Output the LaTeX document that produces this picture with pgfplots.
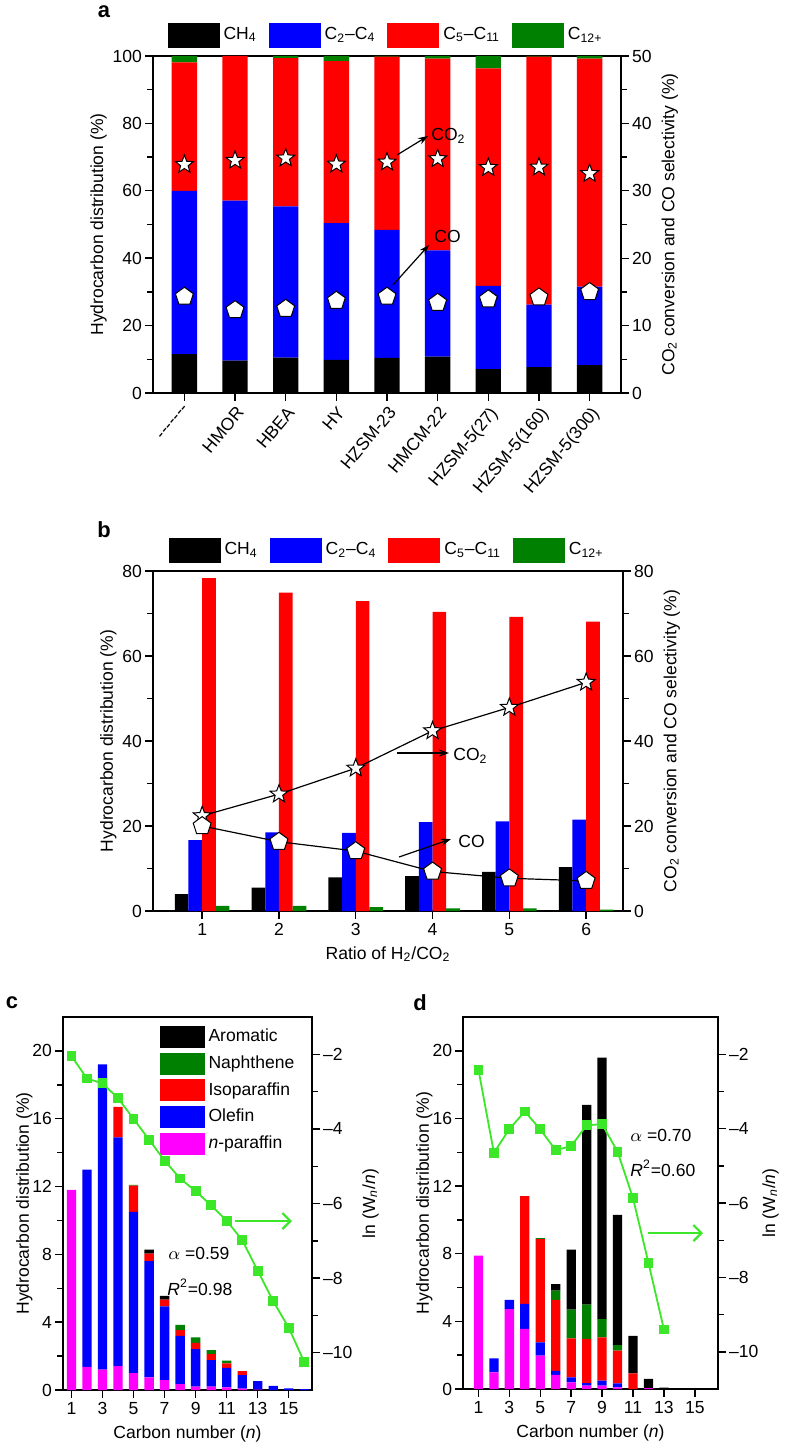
\documentclass[border=0pt]{standalone}
\usepackage{fontspec}
\setmainfont{Liberation Sans}
\usepackage{pgfplots}
\pgfplotsset{compat=1.18}
\usetikzlibrary{arrows.meta,plotmarks}
\definecolor{cgreen}{RGB}{0,128,0}
\definecolor{lgreen}{RGB}{60,230,40}
\definecolor{cmag}{RGB}{255,0,255}
\definecolor{cblue}{RGB}{0,0,255}
\definecolor{cred}{RGB}{255,0,0}
\newcommand{\fs}{\fontsize{8.8}{10.5}\selectfont}
\pgfdeclareplotmark{fstar}{%
  \pgfpathmoveto{\pgfpointpolar{90}{\pgfplotmarksize}}%
  \pgfpathlineto{\pgfpointpolar{126}{0.42\pgfplotmarksize}}%
  \pgfpathlineto{\pgfpointpolar{162}{\pgfplotmarksize}}%
  \pgfpathlineto{\pgfpointpolar{198}{0.42\pgfplotmarksize}}%
  \pgfpathlineto{\pgfpointpolar{234}{\pgfplotmarksize}}%
  \pgfpathlineto{\pgfpointpolar{270}{0.42\pgfplotmarksize}}%
  \pgfpathlineto{\pgfpointpolar{306}{\pgfplotmarksize}}%
  \pgfpathlineto{\pgfpointpolar{342}{0.42\pgfplotmarksize}}%
  \pgfpathlineto{\pgfpointpolar{18}{\pgfplotmarksize}}%
  \pgfpathlineto{\pgfpointpolar{54}{0.42\pgfplotmarksize}}%
  \pgfpathclose\pgfusepathqfillstroke}
\pgfplotsset{
  base/.style={scale only axis, /pgf/number format/assume math mode=true,
    font=\fs, tick label style={font=\fs}, label style={font=\fs},
    yticklabel style={inner sep=1.5bp}, xticklabel style={inner sep=2bp},
    axis line style={line width=0.7bp}, tick style={black, line width=0.7bp},
    tick align=outside, major tick length=3.8bp, minor tick length=2.8bp},
  leg/.style={legend image code/.code={\fill[##1] (0bp,-6.25bp) rectangle (26bp,6.25bp);}},
  legc/.style={legend image code/.code={\fill[##1] (0bp,-5.5bp) rectangle (22.5bp,5.5bp);}},
  starm/.style={only marks, mark=fstar, mark size=4.7bp, mark options={fill=white, draw=black, line width=0.5bp}},
  pentm/.style={only marks, mark=pentagon*, mark size=4.7bp, mark options={fill=white, draw=black, line width=0.5bp}},
}
\begin{document}
\begin{tikzpicture}[x=0.5bp,y=-0.5bp,font=\fs]
\useasboundingbox (0,0) rectangle (788,1449);
% ---------------- panel a
\begin{axis}[base, at={({0.5bp*153},{-0.5bp*393})}, anchor=south west, width=234bp, height=168.5bp,
  ybar stacked, bar width=0.5, xmin=-0.62, xmax=8.62, ymin=0, ymax=100,
  xtick={0,...,8}, xticklabels={{-{}-{}-{}-{}-{}-{}-},HMOR,HBEA,HY,HZSM-23,HMCM-22,HZSM-5(27),HZSM-5(160),HZSM-5(300)},
  xtick pos=left, ytick pos=left, ytick={0,20,...,100}, minor y tick num=1,
  xticklabel style={rotate=50, anchor=north east, inner sep=1.5bp},
  ylabel={Hydrocarbon distribution (\%)}, ylabel shift=-2bp,
  legend style={at={(0.5,1)}, anchor=south, yshift=4bp, draw=none, fill=none, inner sep=0pt,
    legend columns=4, /tikz/every even column/.append style={column sep=4bp}},
  leg]
\addplot[fill=black, draw=none] coordinates {(0,11.5) (1,9.6) (2,10.5) (3,9.8) (4,10.4) (5,10.8) (6,7.1) (7,7.7) (8,8.3)};
\addlegendentry{CH\textsubscript{4}}
\addplot[fill=cblue, draw=none] coordinates {(0,48.5) (1,47.5) (2,44.9) (3,40.6) (4,38.0) (5,31.5) (6,24.7) (7,18.5) (8,23.3)};
\addlegendentry{C\textsubscript{2}--C\textsubscript{4}}
\addplot[fill=cred, draw=none] coordinates {(0,38.1) (1,42.9) (2,44.0) (3,48.1) (4,51.4) (5,56.9) (6,64.5) (7,73.6) (8,67.6)};
\addlegendentry{C\textsubscript{5}--C\textsubscript{11}}
\addplot[fill=cgreen, draw=none] coordinates {(0,1.9) (1,0.0) (2,0.6) (3,1.5) (4,0.2) (5,0.8) (6,3.7) (7,0.2) (8,0.8)};
\addlegendentry{C\textsubscript{12+}}
\end{axis}
\begin{axis}[base, at={({0.5bp*153},{-0.5bp*393})}, anchor=south west, width=234bp, height=168.5bp,
  xmin=-0.62, xmax=8.62, ymin=0, ymax=50, axis y line*=right, axis x line=none,
  ytick={0,10,...,50}, minor y tick num=1,
  ylabel={CO\textsubscript{2} conversion and CO selectivity (\%)}]
\addplot[starm] coordinates {(0,33.9) (1,34.5) (2,34.85) (3,33.95) (4,34.25) (5,34.75) (6,33.45) (7,33.5) (8,32.55)};
\addplot[pentm] coordinates {(0,14.3) (1,12.3) (2,12.5) (3,13.7) (4,14.3) (5,13.4) (6,13.9) (7,14.2) (8,15.0)};
\end{axis}
\draw[-{Stealth[length=5bp,width=3.5bp]}, line width=0.6bp] (397,155) -- (428,136);
\node[anchor=west, inner sep=0pt] at (431,136) {CO\textsubscript{2}};
\draw[-{Stealth[length=5bp,width=3.5bp]}, line width=0.6bp] (393,285) -- (429,245);
\node[anchor=west, inner sep=0pt] at (434,236) {CO};
\node[font=\fontsize{11}{12}\bfseries\selectfont] at (104,12) {a};
% ---------------- panel b
\begin{axis}[base, at={({0.5bp*153},{-0.5bp*911})}, anchor=south west, width=235bp, height=170bp,
  ybar, bar width=0.178, xmin=0.36, xmax=6.48, ymin=0, ymax=80,
  xtick={1,...,6}, xtick pos=left, ytick pos=left, ytick={0,20,...,80}, minor y tick num=1,
  xlabel={Ratio of H\textsubscript{2}/CO\textsubscript{2}},
  ylabel={Hydrocarbon distribution (\%)}, ylabel shift=-2bp,
  legend style={at={(0.5,1)}, anchor=south, yshift=4bp, draw=none, fill=none, inner sep=0pt,
    legend columns=4, /tikz/every even column/.append style={column sep=4bp}},
  leg]
\addplot[fill=black, draw=none, bar shift=-0.267] coordinates {(1,4.0) (2,5.5) (3,7.9) (4,8.2) (5,9.2) (6,10.3)};
\addlegendentry{CH\textsubscript{4}}
\addplot[fill=cblue, draw=none, bar shift=-0.089] coordinates {(1,16.7) (2,18.5) (3,18.4) (4,20.9) (5,21.1) (6,21.5)};
\addlegendentry{C\textsubscript{2}--C\textsubscript{4}}
\addplot[fill=cred, draw=none, bar shift=0.089] coordinates {(1,78.3) (2,74.9) (3,72.9) (4,70.4) (5,69.2) (6,68.1)};
\addlegendentry{C\textsubscript{5}--C\textsubscript{11}}
\addplot[fill=cgreen, draw=none, bar shift=0.267] coordinates {(1,1.2) (2,1.2) (3,0.9) (4,0.6) (5,0.6) (6,0.3)};
\addlegendentry{C\textsubscript{12+}}
\end{axis}
\begin{axis}[base, at={({0.5bp*153},{-0.5bp*911})}, anchor=south west, width=235bp, height=170bp,
  xmin=0.36, xmax=6.48, ymin=0, ymax=80, axis y line*=right, axis x line=none,
  ytick={0,20,...,80}, minor y tick num=1,
  ylabel={CO\textsubscript{2} conversion and CO selectivity (\%)}]
\addplot[black, line width=0.6bp, no marks] coordinates {(1,22.4) (2,27.5) (3,33.6) (4,42.4) (5,47.9) (6,53.8)};
\addplot[black, line width=0.6bp, no marks] coordinates {(1,20.0) (2,16.3) (3,14.1) (4,9.3) (5,7.7) (6,7.1)};
\addplot[starm] coordinates {(1,22.4) (2,27.5) (3,33.6) (4,42.4) (5,47.9) (6,53.8)};
\addplot[pentm] coordinates {(1,20.0) (2,16.3) (3,14.1) (4,9.3) (5,7.7) (6,7.1)};
\end{axis}
\draw[-{Stealth[length=5bp,width=3.5bp]}, line width=0.6bp] (397,753) -- (449,753);
\node[anchor=west, inner sep=0pt] at (453,756) {CO\textsubscript{2}};
\draw[-{Stealth[length=5bp,width=3.5bp]}, line width=0.6bp] (399,857) -- (451,839);
\node[anchor=west, inner sep=0pt] at (458,841) {CO};
\node[font=\fontsize{11}{12}\bfseries\selectfont] at (104,530) {b};
% ---------------- panel c
\begin{axis}[base, at={({0.5bp*63},{-0.5bp*1390})}, anchor=south west, width=124.5bp, height=186.5bp,
  ybar stacked, bar width=0.6, xmin=0.45, xmax=16.5, ymin=0, ymax=22,
  xtick={1,3,...,15}, xtick pos=left, ytick pos=left, ytick={0,4,...,20}, minor y tick num=1,
  xlabel={Carbon number (\textit{n})}, ylabel={Hydrocarbon distribution (\%)}, ylabel shift=-5bp,
  legend style={at={(0.386,0.979)}, anchor=north west, draw=none, fill=none, inner sep=0pt, row sep=1.5bp},
  legend cell align=left, reverse legend, legc]
\addplot[fill=cmag, draw=none] coordinates {(1,11.8) (2,1.37) (3,1.2) (4,1.41) (5,1.0) (6,0.75) (7,0.59) (8,0.35) (9,0.2) (10,0.2) (11,0.16) (12,0.08) (13,0.03) (14,0) (15,0) (16,0)};
\addlegendentry{\textit{n}-paraffin}
\addplot[fill=cblue, draw=none] coordinates {(1,0) (2,11.63) (3,18.0) (4,13.49) (5,9.5) (6,6.85) (7,4.35) (8,2.85) (9,2.21) (10,1.56) (11,1.15) (12,0.8) (13,0.5) (14,0.24) (15,0.1) (16,0.05)};
\addlegendentry{Olefin}
\addplot[fill=cred, draw=none] coordinates {(1,0) (2,0) (3,0) (4,1.8) (5,1.56) (6,0.44) (7,0.39) (8,0.33) (9,0.37) (10,0.36) (11,0.26) (12,0.24) (13,0) (14,0) (15,0) (16,0)};
\addlegendentry{Isoparaffin}
\addplot[fill=cgreen, draw=none] coordinates {(1,0) (2,0) (3,0) (4,0) (5,0.04) (6,0) (7,0) (8,0.31) (9,0.32) (10,0.23) (11,0.16) (12,0) (13,0) (14,0) (15,0) (16,0)};
\addlegendentry{Naphthene}
\addplot[fill=black, draw=none] coordinates {(1,0) (2,0) (3,0) (4,0) (5,0) (6,0.24) (7,0.22) (8,0) (9,0) (10,0) (11,0) (12,0) (13,0) (14,0) (15,0) (16,0)};
\addlegendentry{Aromatic}
\end{axis}
\begin{axis}[base, at={({0.5bp*63},{-0.5bp*1390})}, anchor=south west, width=124.5bp, height=186.5bp,
  xmin=0.45, xmax=16.5, ymin=-11, ymax=-1, axis y line*=right, axis x line=none,
  ytick={-10,-8,-6,-4,-2}, yticklabels={–10,–8,–6,–4,–2}, minor y tick num=1,
  ylabel={ln (W\textsubscript{\textit{n}}/\textit{n})}]
\addplot[lgreen, line width=0.9bp, mark=square*, mark size=2bp, mark options={fill=lgreen, draw=lgreen}] coordinates {(1,-2.05) (2,-2.65) (3,-2.78) (4,-3.18) (5,-3.73) (6,-4.29) (7,-4.85) (8,-5.33) (9,-5.67) (10,-6.05) (11,-6.46) (12,-6.98) (13,-7.8) (14,-8.62) (15,-9.33) (16,-10.25)};
\end{axis}
\draw[lgreen, line width=1.1bp, -{Straight Barb[length=4bp,width=8bp]}] (235,1221) -- (292,1221);
\node[anchor=west, inner sep=0pt] at (168,1253) {$\alpha$ =0.59};
\node[anchor=west, inner sep=0pt] at (167,1287) {\textit{R}\textsuperscript{2}=0.98};
\node[font=\fontsize{11}{12}\bfseries\selectfont] at (12,1003) {c};
% ---------------- panel d
\begin{axis}[base, at={({0.5bp*463},{-0.5bp*1389})}, anchor=south west, width=127.5bp, height=186bp,
  ybar stacked, bar width=0.6, xmin=0, xmax=16.5, ymin=0, ymax=22,
  xtick={1,3,...,15}, xtick pos=left, ytick pos=left, ytick={0,4,...,20}, minor y tick num=1,
  xlabel={Carbon number (\textit{n})}, ylabel={Hydrocarbon distribution (\%)}, ylabel shift=-5bp]
\addplot[fill=cmag, draw=none] coordinates {(1,7.89) (2,0.98) (3,4.73) (4,3.55) (5,1.97) (6,0.83) (7,0.39) (8,0.2) (9,0.2) (10,0.1) (11,0) (12,0.05) (13,0)};
\addplot[fill=cblue, draw=none] coordinates {(1,0) (2,0.83) (3,0.54) (4,1.48) (5,0.79) (6,0.25) (7,0.30) (8,0.15) (9,0.29) (10,0.23) (11,0) (12,0) (13,0)};
\addplot[fill=cred, draw=none] coordinates {(1,0) (2,0) (3,0) (4,6.37) (5,6.11) (6,4.19) (7,2.30) (8,2.61) (9,2.56) (10,1.94) (11,0.92) (12,0) (13,0)};
\addplot[fill=cgreen, draw=none] coordinates {(1,0) (2,0) (3,0) (4,0) (5,0.05) (6,0.55) (7,1.70) (8,2.03) (9,1.09) (10,0.33) (11,0) (12,0) (13,0)};
\addplot[fill=black, draw=none] coordinates {(1,0) (2,0) (3,0) (4,0) (5,0) (6,0.39) (7,3.55) (8,11.81) (9,15.46) (10,7.7) (11,2.23) (12,0.55) (13,0.08)};
\end{axis}
\begin{axis}[base, at={({0.5bp*463},{-0.5bp*1389})}, anchor=south west, width=127.5bp, height=186bp,
  xmin=0, xmax=16.5, ymin=-11, ymax=-1, axis y line*=right, axis x line=none,
  ytick={-10,-8,-6,-4,-2}, yticklabels={–10,–8,–6,–4,–2}, minor y tick num=1,
  ylabel={ln (W\textsubscript{\textit{n}}/\textit{n})}, ylabel shift=-3bp]
\addplot[lgreen, line width=0.9bp, mark=square*, mark size=2bp, mark options={fill=lgreen, draw=lgreen}] coordinates {(1,-2.42) (2,-4.65) (3,-4.01) (4,-3.54) (5,-4.02) (6,-4.58) (7,-4.47) (8,-3.91) (9,-3.88) (10,-4.62) (11,-5.87) (12,-7.61) (13,-9.4)};
\end{axis}
\draw[lgreen, line width=1.1bp, -{Straight Barb[length=4bp,width=8bp]}] (648,1233) -- (703,1233);
\node[anchor=west, inner sep=0pt] at (630,1135) {$\alpha$ =0.70};
\node[anchor=west, inner sep=0pt] at (630,1168) {\textit{R}\textsuperscript{2}=0.60};
\node[font=\fontsize{11}{12}\bfseries\selectfont] at (420,1003) {d};
\end{tikzpicture}
\end{document}
